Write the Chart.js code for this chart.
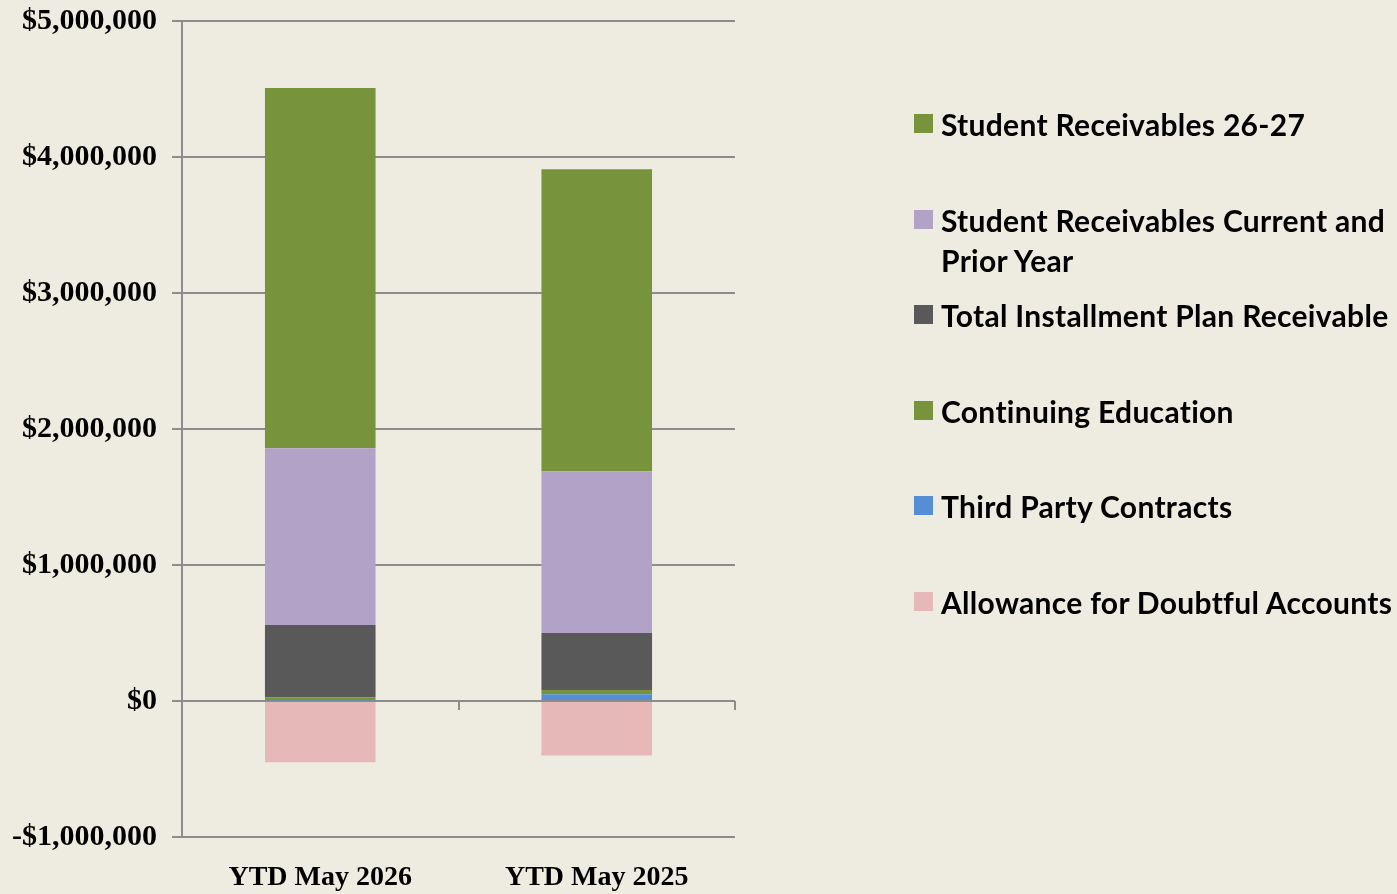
<!DOCTYPE html>
<html>
  <head>
    <meta charset="utf-8">
    <title>Student Receivables</title>
    <script src="https://cdn.jsdelivr.net/npm/chart.js@4.4.1/dist/chart.umd.min.js"></script>
    <style>
      html, body { margin: 0; padding: 0; background: #EEECE1; }
      #wrap { position: relative; width: 1397px; height: 894px; }
      #legend { position: absolute; left: 914px; top: 104px; font-family: Lato, "Open Sans", sans-serif; font-weight: bold; font-size: 30px; letter-spacing: 0.3px; color: #000; }
      #legend .item { position: relative; height: 95.5px; padding-left: 27px; line-height: 40px; width: 456px; }
      #legend .box { position: absolute; left: 0; top: 10px; width: 19px; height: 19px; }
    </style>
  </head>
  <body>
    <div id="wrap">
      <canvas id="myChart"></canvas>
      <div id="legend"></div>
    </div>

    <script type="text/javascript">
      // categories
      var labels = ['YTD May 2026', 'YTD May 2025'];

      // series, bottom of the stack first
      var allowance    = [-450000, -400000];
      var thirdParty   = [3000, 50000];
      var contEd       = [25000, 30000];
      var installment  = [530000, 420000];
      var currentPrior = [1300000, 1190000];
      var rec2627      = [2650000, 2220000];

      // y ticks
      var yMin = -1000000, yMax = 5000000, yStep = 1000000;

      var gridGray = '#8c8c8c';

      function money(v) {
        var s = Math.abs(v).toLocaleString('en-US');
        return (v < 0 ? '-$' : '$') + s;
      }

      var datasets = [
        { label: 'Allowance for Doubtful Accounts', data: allowance, backgroundColor: '#E6B9B8' },
        { label: 'Third Party Contracts', data: thirdParty, backgroundColor: '#558ED5' },
        { label: 'Continuing Education', data: contEd, backgroundColor: '#77933C' },
        { label: 'Total Installment Plan Receivable', data: installment, backgroundColor: '#595959' },
        { label: 'Student Receivables Current and Prior Year', data: currentPrior, backgroundColor: '#B3A2C7' },
        { label: 'Student Receivables 26-27', data: rec2627, backgroundColor: '#77933C' }
      ];
      datasets.forEach(function(d) {
        d.borderWidth = 0;
        d.barPercentage = 0.4;
        d.categoryPercentage = 1;
        d.xAxisID = 'x';
        d.yAxisID = 'y';
      });

      var ctx = document.getElementById('myChart').getContext('2d');
      var chart = new Chart(ctx, {
        type: 'bar',
        data: { labels: labels, datasets: datasets },
        options: {
          responsive: true,
          maintainAspectRatio: false,
          animation: false,
          layout: { padding: { top: 21, right: 662, left: 0, bottom: 0 } },
          plugins: { legend: { display: false }, tooltip: { enabled: false } },
          scales: {
            x: {
              stacked: true,
              grid: { display: false, drawTicks: false },
              border: { display: false },
              ticks: {
                padding: 24,
                color: '#000',
                font: { family: '"Liberation Serif", "Times New Roman", serif', weight: 'bold', size: 28 }
              },
              afterFit: function(s) { s.height = 57; s.paddingLeft = 0; s.paddingRight = 0; }
            },
            x2: {
              type: 'category',
              position: { y: 0 },
              offset: true,
              grid: { offset: true, drawOnChartArea: false, tickLength: 9, color: gridGray, lineWidth: 2 },
              border: { display: false },
              ticks: { display: false }
            },
            y: {
              stacked: true,
              min: yMin,
              max: yMax,
              ticks: {
                stepSize: yStep,
                padding: 15,
                color: '#000',
                font: { family: '"Liberation Serif", "Times New Roman", serif', weight: 'bold', size: 30 },
                callback: function(v) { return money(v); }
              },
              grid: { color: gridGray, lineWidth: 2, tickLength: 10 },
              border: { color: gridGray, width: 2 },
              afterFit: function(s) { s.width = 182; s.paddingTop = 0; s.paddingBottom = 0; }
            }
          }
        }
      });

      // legend, top of the stack first
      var legend = document.getElementById('legend');
      datasets.slice().reverse().forEach(function(d) {
        var item = document.createElement('div');
        item.className = 'item';
        var box = document.createElement('span');
        box.className = 'box';
        box.style.background = d.backgroundColor;
        item.appendChild(box);
        item.appendChild(document.createTextNode(d.label));
        legend.appendChild(item);
      });
    </script>
  </body>
</html>
